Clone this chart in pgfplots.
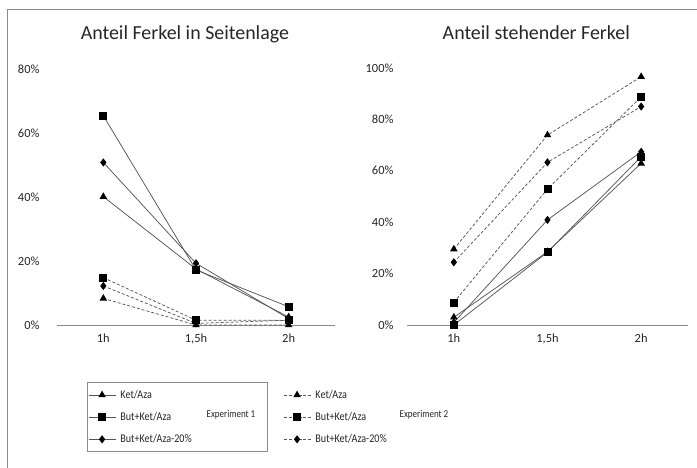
\documentclass[border=0pt]{standalone}
\usepackage{pgfplots}
\pgfplotsset{compat=1.18}
\usepackage{fontspec}
\setmainfont{Carlito}
\newfontfamily\legfont[FakeStretch=0.86]{Carlito}
\definecolor{lgray}{HTML}{555555}
\definecolor{axgray}{HTML}{8C8C8C}
\definecolor{txt}{HTML}{262626}
\pgfplotsset{
  myaxis/.style={
    scale only axis, clip=false,
    axis x line*=bottom, axis y line*=left,
    x axis line style={draw=axgray, line width=0.8pt, -},
    y axis line style={draw=none},
    xmin=-0.5, xmax=2.5, ymin=0,
    xtick={0,1,2}, xticklabels={1h,1{,}5h,2h},
    major tick length=0pt,
    tick label style={font=\fontsize{12.5}{14}\selectfont, text=txt},
    xticklabel style={yshift=-5bp},
    /pgf/number format/assume math mode=true,
    title style={at={(0.46,1)}, anchor=center, yshift=29bp, font=\fontsize{20}{24}\selectfont, text=black!85},
    every axis plot/.append style={line width=0.75pt},
    legend style={draw=none, fill=none, font=\legfont\fontsize{11.8}{13}\selectfont, text=txt,
      row sep=10.5bp, inner sep=0pt, nodes={inner xsep=4.5bp, inner ysep=1bp},
      anchor=north west, legend cell align=left},
    legend image code/.code={\draw[mark repeat=2,mark phase=2] plot coordinates {(0bp,0bp)(13.5bp,0bp)(27bp,0bp)};},
  },
  sol/.style={lgray, solid, mark options={solid, fill=black, draw=black}},
  das/.style={lgray, densely dashed, mark options={solid, fill=black, draw=black}},
  tri/.style={mark=triangle*, mark size=3.6bp},
  squ/.style={mark=square*, mark size=3.5bp},
  dia/.style={mark=diamond*, mark size=3.5bp},
}
\begin{document}
\begin{tikzpicture}
\path[use as bounding box] (0bp,0bp) rectangle (697bp,468bp);
\draw[axgray, line width=0.8pt] (7bp,0bp) -- (7bp,459bp) -- (697bp,459bp);
% left chart
\begin{axis}[myaxis, at={(57bp,143bp)}, anchor=south west, width=278bp, height=256bp,
  ymax=80, ytick={0,20,40,60,80}, yticklabels={0\%,20\%,40\%,60\%,80\%},
  yticklabel style={anchor=east, xshift=-14bp},
  title={Anteil Ferkel in Seitenlage},
  legend style={at={(axis description cs:0.1115,-0.2500)}}]
\addplot[das,tri,forget plot] coordinates {(0,8.3) (1,0) (2,0)};
\addplot[das,squ,forget plot] coordinates {(0,14.8) (1,1.5) (2,1.5)};
\addplot[das,dia,forget plot] coordinates {(0,12.2) (1,0.5) (2,1.5)};
\addplot[sol,tri] coordinates {(0,40.1) (1,17.5) (2,2.5)};
\addlegendentry{Ket/Aza}
\addplot[sol,squ] coordinates {(0,65.4) (1,17.2) (2,5.7)};
\addlegendentry{But+Ket/Aza}
\addplot[sol,dia] coordinates {(0,50.8) (1,19.3) (2,2)};
\addlegendentry{But+Ket/Aza-20\%}
\end{axis}
% right chart
\begin{axis}[myaxis, at={(407bp,143bp)}, anchor=south west, width=281bp, height=257bp,
  ymax=100, ytick={0,20,40,60,80,100}, yticklabels={0\%,20\%,40\%,60\%,80\%,100\%},
  yticklabel style={anchor=east, xshift=-10bp},
  title={Anteil stehender Ferkel},
  legend style={at={(axis description cs:-0.4413,-0.2490)}}]
\addplot[sol,tri,forget plot] coordinates {(0,3) (1,28.5) (2,62.9)};
\addplot[sol,squ,forget plot] coordinates {(0,0) (1,28.3) (2,65.5)};
\addplot[sol,dia,forget plot] coordinates {(0,1) (1,40.9) (2,67.4)};
\addplot[das,tri] coordinates {(0,29.5) (1,73.9) (2,96.6)};
\addlegendentry{Ket/Aza}
\addplot[das,squ] coordinates {(0,8.8) (1,52.9) (2,88.8)};
\addlegendentry{But+Ket/Aza}
\addplot[das,dia] coordinates {(0,24.4) (1,63.3) (2,85)};
\addlegendentry{But+Ket/Aza-20\%}
\end{axis}
\draw[axgray, line width=0.9pt] (87bp,17bp) rectangle (267bp,86bp);
\node[font=\legfont\fontsize{10.5}{12}\selectfont, text=txt] at (231bp,53bp) {Experiment 1};
\node[font=\legfont\fontsize{10.5}{12}\selectfont, text=txt] at (424bp,53bp) {Experiment 2};
\end{tikzpicture}
\end{document}
